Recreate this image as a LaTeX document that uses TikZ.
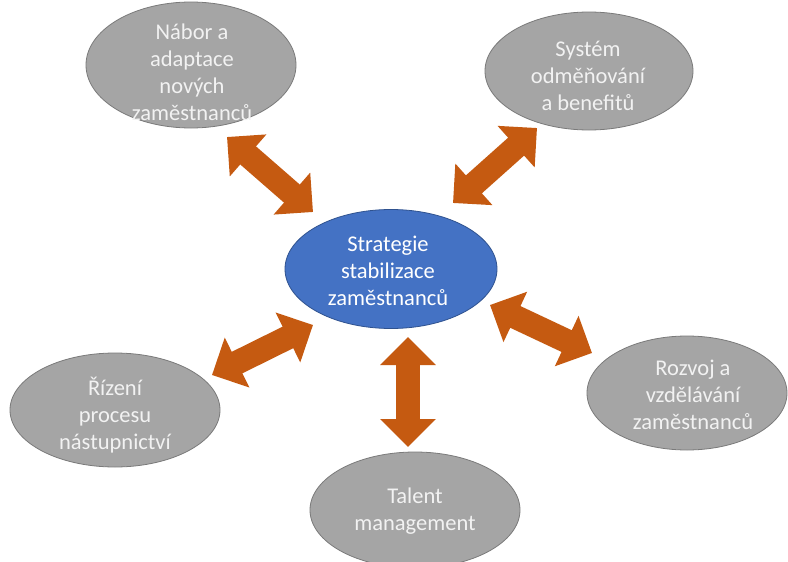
\documentclass[tikz,border=0pt]{standalone}
\usepackage{fontspec}
\setmainfont{Carlito}
\usetikzlibrary{arrows.meta,shapes.geometric}
\definecolor{grayfill}{HTML}{A5A5A5}
\definecolor{graydraw}{HTML}{7A7A7A}
\definecolor{bluefill}{HTML}{4472C4}
\definecolor{bluedraw}{HTML}{2F528F}
\definecolor{arrowc}{HTML}{C55A11}
\definecolor{txtgray}{HTML}{F2F2F2}
\tikzset{
  grayell/.style={ellipse, fill=grayfill, draw=graydraw, line width=0.8pt, inner sep=0pt},
  blueell/.style={ellipse, fill=bluefill, draw=bluedraw, line width=0.8pt, inner sep=0pt},
  lbl/.style={align=center, text=txtgray, font=\fontsize{22.5}{27}\selectfont, inner sep=0pt},
  bigarrow/.style={draw=arrowc, line width=24pt,
    {Triangle[length=28pt,width=54pt]}-{Triangle[length=28pt,width=54pt]}}
}
\begin{document}
\begin{tikzpicture}[x=1pt,y=-1pt]
\useasboundingbox (0,0) rectangle (788,562);
\fill[white] (0,0) rectangle (788,562);
% ellipses
\node[grayell, minimum width=210pt, minimum height=126pt] (e1) at (191,65) {};
\node[grayell, minimum width=208pt, minimum height=118pt] (e2) at (589,71) {};
\node[blueell, minimum width=212pt, minimum height=119pt] (c) at (391,269) {};
\node[grayell, minimum width=200pt, minimum height=114pt] (e3) at (687,393) {};
\node[grayell, minimum width=210pt, minimum height=116pt] (e4) at (415,510) {};
\node[grayell, minimum width=210pt, minimum height=114pt] (e5) at (115,410) {};
% texts
\node[lbl] (t1) at (192,72) {Nábor a\\adaptace\\nových\\zaměstnanců};
\node[lbl] (t2) at (588,76) {Systém\\odměňování\\a benefitů};
\node[lbl, text=white] (tc) at (388,271) {Strategie\\stabilizace\\zaměstnanců};
\node[lbl] (t3) at (693,395) {Rozvoj a\\vzdělávání\\zaměstnanců};
\node[lbl] (t4) at (415,511) {Talent\\management};
\node[lbl] (t5) at (115,415) {Řízení\\procesu\\nástupnictví};
% arrow end points
\coordinate (a1s) at (227,137); \coordinate (a1e) at (313,212);
\coordinate (a2s) at (453,203); \coordinate (a2e) at (537,128);
\coordinate (a3s) at (490,305); \coordinate (a3e) at (592,353);
\coordinate (a4s) at (408,337); \coordinate (a4e) at (408,447);
\coordinate (a5s) at (212,375); \coordinate (a5e) at (313,325);
\draw[bigarrow] (a1s) -- (a1e);
\draw[bigarrow] (a2s) -- (a2e);
\draw[bigarrow] (a3s) -- (a3e);
\draw[bigarrow] (a4s) -- (a4e);
\draw[bigarrow] (a5s) -- (a5e);
\end{tikzpicture}
\end{document}
